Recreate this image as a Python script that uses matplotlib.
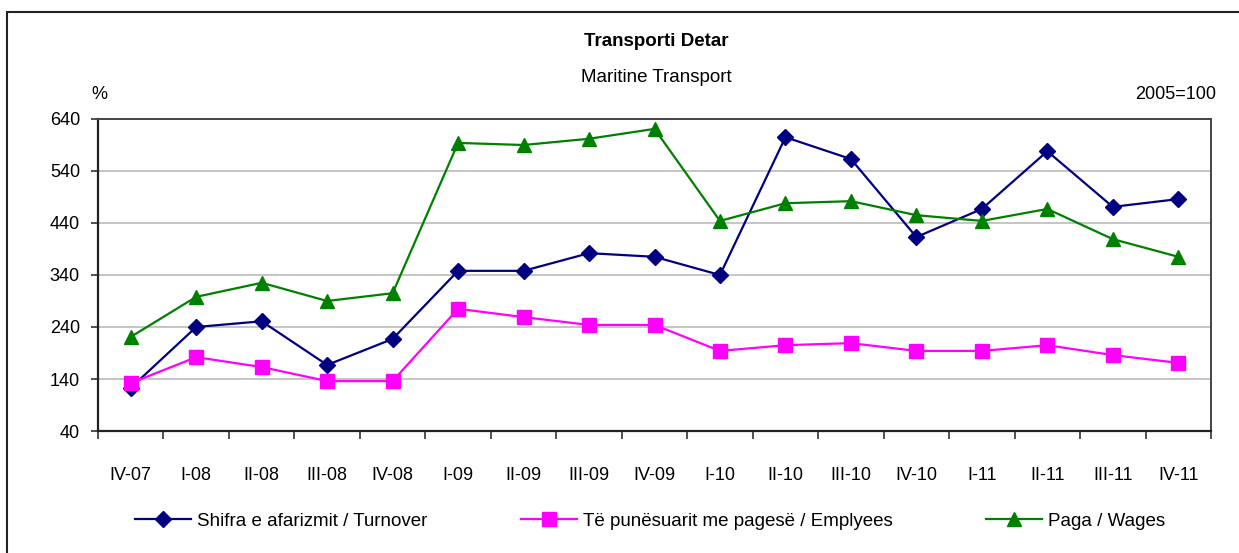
import numpy as np
import matplotlib.pyplot as plt
from matplotlib.patches import Rectangle

quarters = ['IV-07', 'I-08', 'II-08', 'III-08', 'IV-08', 'I-09', 'II-09', 'III-09', 'IV-09',
            'I-10', 'II-10', 'III-10', 'IV-10', 'I-11', 'II-11', 'III-11', 'IV-11']
turnover = [123, 240, 251, 167, 217, 348, 348, 382, 375, 340, 605, 563, 413, 467, 578, 471, 486]
employees = [132, 182, 163, 136, 136, 275, 259, 244, 244, 194, 205, 209, 194, 194, 205, 186, 171]
wages = [221, 298, 325, 290, 305, 594, 590, 602, 621, 444, 478, 482, 455, 444, 467, 409, 375]

plt.rcParams['font.family'] = ['Liberation Sans Narrow', 'Liberation Sans', 'DejaVu Sans']

W, H = 1239, 553
fig = plt.figure(figsize=(W / 100, H / 100), dpi=100)
ax = fig.add_axes([98 / W, 1 - 431 / H, (1211 - 98) / W, (431 - 119) / H])

# outer chart frame
fig.patches.append(Rectangle((7 / W, -0.1), 2, 1 - 12 / H + 0.1, transform=fig.transFigure,
                             fill=False, edgecolor='#222222', linewidth=1.5))

x = np.arange(len(quarters))
ax.plot(x, turnover, color='#000080', marker='D', markersize=8.5, linewidth=1.6,
        label='Shifra e afarizmit / Turnover', clip_on=False, zorder=3)
ax.plot(x, employees, color='#FF00FF', marker='s', markersize=10, linewidth=1.6,
        label='Të punësuarit me pagesë / Emplyees', clip_on=False, zorder=3)
ax.plot(x, wages, color='#008000', marker='^', markersize=10.5, linewidth=1.6,
        label='Paga / Wages', clip_on=False, zorder=3)

ax.set_xlim(-0.5, len(quarters) - 0.5)
ax.set_ylim(40, 640)
ax.set_yticks(np.arange(40, 641, 100))
ax.yaxis.grid(True, color='#BBBBBB', linewidth=1.2)
ax.set_axisbelow(True)

ax.set_xticks(x)
ax.set_xticklabels(quarters)
ax.set_xticks(np.arange(-0.5, len(quarters), 1), minor=True)
ax.tick_params(axis='x', which='major', length=0, pad=26, labelsize=13)
ax.tick_params(axis='x', which='minor', length=6, width=1.2, direction='out', color='#333333')
ax.tick_params(axis='y', length=5, width=1.2, pad=8, labelsize=13, color='#333333')

for side in ['left', 'bottom']:
    ax.spines[side].set_color('#222222')
    ax.spines[side].set_linewidth(1.6)
for side in ['top', 'right']:
    ax.spines[side].set_color('#444444')
    ax.spines[side].set_linewidth(1.4)

fig.text(656 / W, 1 - 42 / H, 'Transporti Detar', ha='center', va='center',
         fontsize=13.5, fontweight='bold')
fig.text(656 / W, 1 - 77 / H, 'Maritine Transport', ha='center', va='center', fontsize=13.5)
fig.text(99 / W, 1 - 95 / H, '%', ha='center', va='center', fontsize=13)
fig.text(1216 / W, 1 - 95 / H, '2005=100', ha='right', va='center', fontsize=13)

fig.legend(loc='center', bbox_to_anchor=(650 / W, 1 - 521 / H), ncol=3, frameon=False,
           fontsize=13.5, handlelength=3.0, columnspacing=5.0, handletextpad=0.3)

fig.savefig('out.png', dpi=100)
